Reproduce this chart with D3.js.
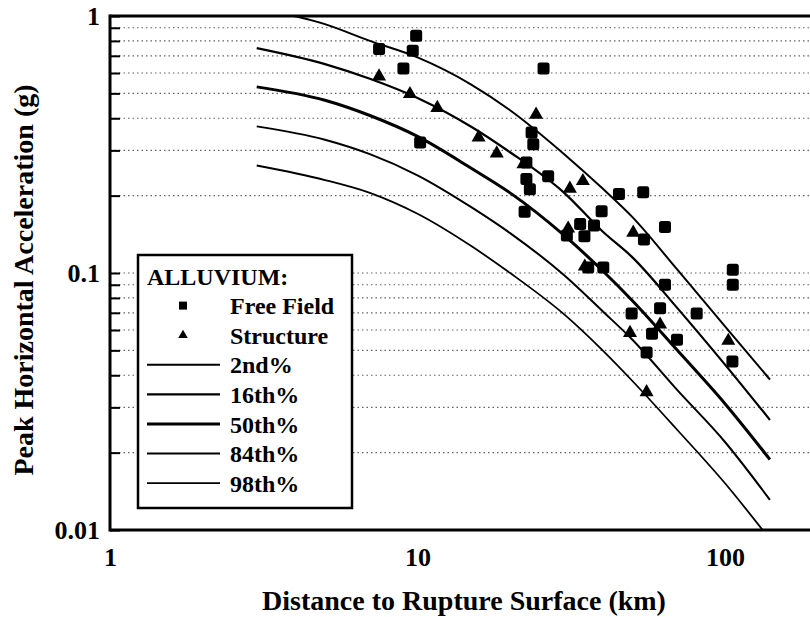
<!DOCTYPE html>
<html>
<head>
<meta charset="utf-8">
<script src="https://cdnjs.cloudflare.com/ajax/libs/d3/7.8.5/d3.min.js"></script>
<style>
  body { margin: 0; background: #fff; }
  svg { display: block; font-family: "Liberation Serif", "DejaVu Serif", serif; font-weight: bold; }
</style>
</head>
<body>
<div class="graph-view"></div>
<script>

let curveDistances = [3, 5, 7, 10, 15, 20, 30, 40, 50, 70, 100, 140];
let curve2nd  = [1.07, 0.93, 0.80, 0.69, 0.54, 0.43, 0.29, 0.213, 0.165, 0.103, 0.062, 0.0385];
let curve16th = [0.75, 0.65, 0.57, 0.48, 0.37, 0.295, 0.205, 0.145, 0.115, 0.073, 0.044, 0.0268];
let curve50th = [0.53, 0.47, 0.41, 0.34, 0.255, 0.205, 0.14, 0.102, 0.078, 0.05, 0.031, 0.0188];
let curve84th = [0.372, 0.33, 0.29, 0.24, 0.18, 0.143, 0.098, 0.071, 0.055, 0.035, 0.022, 0.0131];
let curve98th = [0.262, 0.23, 0.205, 0.17, 0.127, 0.10, 0.069, 0.05, 0.038, 0.0245, 0.0152, 0.0092];

// [distance km, pga g]
let freeField = [
  [7.5, 0.744], [9.9, 0.838], [9.65, 0.732], [9.0, 0.625], [25.7, 0.625], [10.2, 0.322],
  [23.5, 0.352], [23.8, 0.317], [22.6, 0.269], [22.6, 0.232], [23.2, 0.212], [26.6, 0.238],
  [45.2, 0.203], [54.2, 0.206], [39.7, 0.174], [63.8, 0.151], [22.3, 0.173], [33.8, 0.155],
  [37.5, 0.153], [30.6, 0.140], [34.9, 0.139], [54.5, 0.135], [35.9, 0.105], [40.2, 0.105],
  [106, 0.103], [106, 0.090], [63.8, 0.090], [61.5, 0.073], [80.9, 0.0695], [49.7, 0.0695],
  [69.8, 0.055], [55.6, 0.049], [105.7, 0.0453], [57.9, 0.058]
];
let structure = [
  [7.5, 0.582], [9.45, 0.497], [11.6, 0.439], [15.8, 0.337], [18.1, 0.292], [24.3, 0.413],
  [22.1, 0.265], [34.5, 0.228], [31.3, 0.213], [30.9, 0.149], [50.3, 0.1435], [35.0, 0.106],
  [102.5, 0.0545], [55.6, 0.0344], [61.5, 0.063], [49.1, 0.0585]
];

let xTicks = [1, 10, 100];
let yTicks = [0.01, 0.1, 1];
let curveLabels = ["2nd%", "16th%", "50th%", "84th%", "98th%"];
let curveSeries = [curve2nd, curve16th, curve50th, curve84th, curve98th];

let width = 810, height = 617;
let plotLeft = 110, plotTop = 16, plotBottom = 530;
let fontStack = "'Liberation Serif', 'DejaVu Serif', serif";

let svg = d3.select(".graph-view").append("svg")
  .attr("width", width)
  .attr("height", height);

svg.append("rect").attr("width", width).attr("height", height).attr("fill", "#fff");

let x = d3.scaleLog().domain([1, 1000]).range([plotLeft, plotLeft + 3 * 307.5]);
let y = d3.scaleLog().domain([0.01, 1]).range([plotBottom, plotTop]);

svg.append("clipPath").attr("id", "plot-clip")
  .append("rect")
  .attr("x", plotLeft).attr("y", plotTop)
  .attr("width", width - plotLeft).attr("height", plotBottom - plotTop);

// dotted horizontal grid
svg.append("g")
  .selectAll("line")
  .data(y.ticks().filter(function (v) { return v > 0.0101 && v < 0.99; }))
  .join("line")
  .attr("x1", plotLeft).attr("x2", width)
  .attr("y1", function (d) { return y(d); })
  .attr("y2", function (d) { return y(d); })
  .attr("stroke", "#222")
  .attr("stroke-width", 1.2)
  .attr("stroke-dasharray", "1.5,3")
  .attr("opacity", 0.7);

// left axis: inward ticks, labels only at decades
let yAxis = d3.axisLeft(y)
  .tickValues(y.ticks())
  .tickSize(-10)
  .tickSizeOuter(0)
  .tickPadding(10)
  .tickFormat(function (d) { return yTicks.indexOf(d) >= 0 ? d3.format("")(d) : ""; });

let gy = svg.append("g").attr("transform", `translate(${plotLeft},0)`).call(yAxis);
gy.select(".domain").remove();
gy.selectAll(".tick line").attr("stroke", "#000").attr("stroke-width", 2);
gy.selectAll(".tick text")
  .attr("fill", "#000")
  .attr("font-size", 26)
  .attr("font-family", fontStack)
  .attr("font-weight", "bold");

let xAxis = d3.axisBottom(x)
  .tickValues(xTicks)
  .tickSize(0)
  .tickPadding(18)
  .tickFormat(d3.format(""));

let gx = svg.append("g").attr("transform", `translate(0,${plotBottom})`).call(xAxis);
gx.select(".domain").remove();
gx.selectAll(".tick text")
  .attr("fill", "#000")
  .attr("font-size", 26)
  .attr("font-family", fontStack)
  .attr("font-weight", "bold");

// frame
let frame = svg.append("g").attr("stroke", "#000").attr("stroke-width", 3);
frame.append("line").attr("x1", plotLeft).attr("x2", plotLeft).attr("y1", plotTop - 1.5).attr("y2", plotBottom + 1.5);
frame.append("line").attr("x1", plotLeft).attr("x2", width).attr("y1", plotTop).attr("y2", plotTop);
frame.append("line").attr("x1", plotLeft).attr("x2", width).attr("y1", plotBottom).attr("y2", plotBottom);

// percentile curves
let lineWidths = [2, 2.2, 3, 2, 1.8];
let line = d3.line()
  .x(function (d) { return x(d[0]); })
  .y(function (d) { return y(d[1]); })
  .curve(d3.curveMonotoneX);

svg.append("g").attr("clip-path", "url(#plot-clip)")
  .selectAll("path")
  .data(curveSeries)
  .join("path")
  .attr("fill", "none")
  .attr("stroke", "#000")
  .attr("stroke-width", function (d, i) { return lineWidths[i]; })
  .attr("d", function (d) { return line(d.map(function (v, i) { return [curveDistances[i], v]; })); });

// data points
svg.append("g")
  .selectAll("rect")
  .data(freeField)
  .join("rect")
  .attr("x", function (d) { return x(d[0]) - 6; })
  .attr("y", function (d) { return y(d[1]) - 6; })
  .attr("width", 12).attr("height", 12)
  .attr("rx", 2.5)
  .attr("fill", "#000");

let tri = d3.symbol().type(d3.symbolTriangle).size(85);
svg.append("g")
  .selectAll("path")
  .data(structure)
  .join("path")
  .attr("d", tri)
  .attr("transform", function (d) { return `translate(${x(d[0])},${y(d[1])})`; })
  .attr("fill", "#000");

// legend
let lg = svg.append("g").attr("transform", "translate(138,255)")
  .attr("font-family", fontStack).attr("font-size", 24);
lg.append("rect")
  .attr("width", 214).attr("height", 253)
  .attr("fill", "#fff").attr("stroke", "#000").attr("stroke-width", 2.5);

let rowY = function (i) { return 21 + i * 29.6; };
lg.append("text").attr("x", 9).attr("y", rowY(0) + 8.5).text("ALLUVIUM:");

lg.append("rect").attr("x", 45 - 4).attr("y", rowY(1) - 4).attr("width", 8).attr("height", 8).attr("fill", "#000");
lg.append("text").attr("x", 92).attr("y", rowY(1) + 8.5).text("Free Field");

lg.append("path").attr("d", d3.symbol().type(d3.symbolTriangle).size(40))
  .attr("transform", `translate(45,${rowY(2)})`).attr("fill", "#000");
lg.append("text").attr("x", 92).attr("y", rowY(2) + 8.5).text("Structure");

curveLabels.forEach(function (lab, i) {
  let yy = rowY(i + 3);
  lg.append("line").attr("x1", 9).attr("x2", 82).attr("y1", yy).attr("y2", yy)
    .attr("stroke", "#000").attr("stroke-width", lineWidths[i]);
  lg.append("text").attr("x", 92).attr("y", yy + 8.5).text(lab);
});

// axis titles
svg.append("text")
  .attr("x", 464).attr("y", 610)
  .attr("text-anchor", "middle")
  .attr("font-family", fontStack)
  .attr("font-size", 28)
  .text("Distance to Rupture Surface (km)");

svg.append("text")
  .attr("transform", "translate(33,280) rotate(-90)")
  .attr("text-anchor", "middle")
  .attr("font-family", fontStack)
  .attr("font-size", 28)
  .text("Peak Horizontal Acceleration (g)");

</script>
</body>
</html>
